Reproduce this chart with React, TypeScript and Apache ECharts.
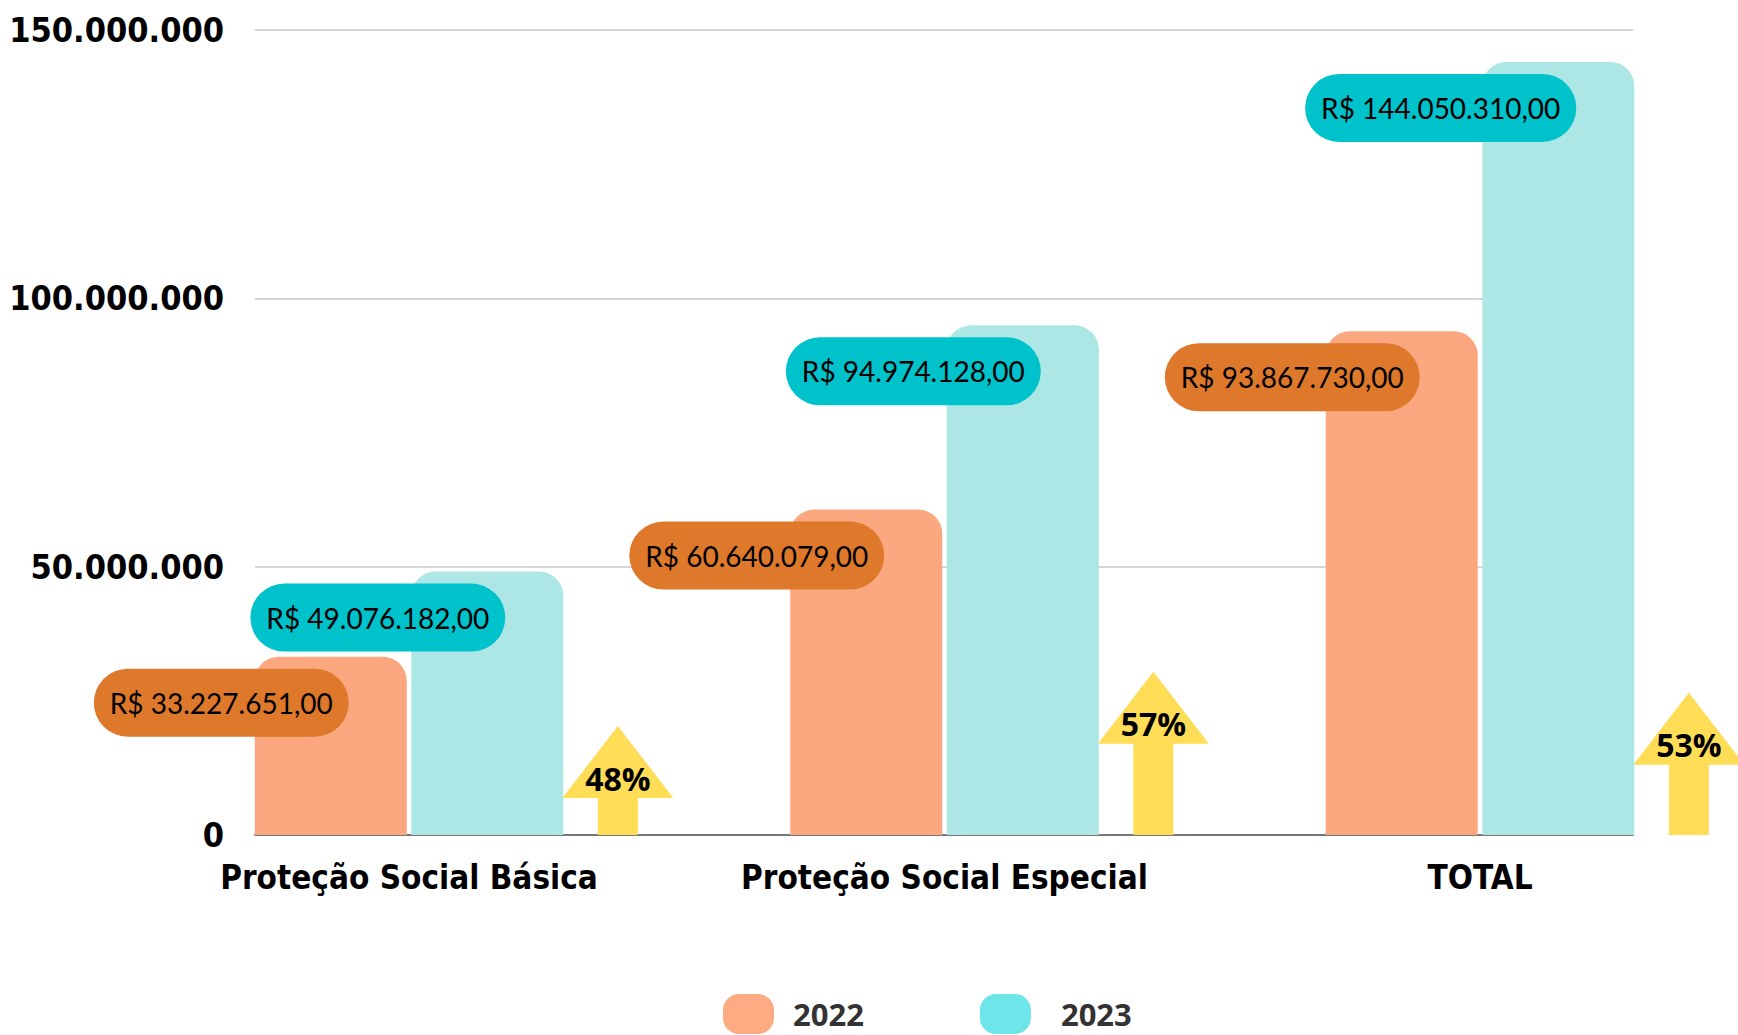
import React, { useEffect, useRef } from 'react';
import * as echarts from 'echarts';

const categories = ['Proteção Social Básica', 'Proteção Social Especial', 'TOTAL'];
const seriesNames = ['2022', '2023'];
const values2022 = [33227651, 60640079, 93867730];
const values2023 = [49076182, 94974128, 144050310];
// decorative growth-arrow heights (in axis units)
const arrowHeights = [20300000, 30400000, 26500000];
const yTicks = [0, 50000000, 100000000, 150000000];

const growthLabels = values2023.map((v, i) => Math.round((v / values2022[i] - 1) * 100) + '%');

function fmtThousands(n: number): string {
  return Math.round(n).toString().replace(/\B(?=(\d{3})+(?!\d))/g, '.');
}

const CONDENSED = "'DejaVu Sans Condensed', 'DejaVu Sans', sans-serif";

export default function App() {
  const ref = useRef<HTMLDivElement>(null);
  useEffect(() => {
    document.body.style.margin = '0';
    const chart = echarts.init(ref.current!, null, { renderer: 'svg' });
    const ARROW_OFFSET = 0.39;
    const legendText = {
      fontSize: 31,
      lineHeight: 32,
      fontWeight: 'bold',
      fontFamily: "'Open Sans', sans-serif",
      color: '#333333',
    };
    const option: any = {
      animation: false,
      backgroundColor: '#ffffff',
      grid: { left: 255, right: 105, top: 30, bottom: 200, outerBoundsMode: 'none', containLabel: false },
      legend: {
        left: 718,
        top: 989,
        itemWidth: 51,
        itemHeight: 40,
        itemGap: 116,
        icon: 'path://M16,0 H35 A16,16 0 0 1 51,16 V24 A16,16 0 0 1 35,40 H16 A16,16 0 0 1 0,24 V16 A16,16 0 0 1 16,0 Z',
        data: [
          { name: seriesNames[0], itemStyle: { color: '#FDAB82' } },
          {
            name: seriesNames[1],
            itemStyle: { color: '#6EE5E9' },
            textStyle: { ...legendText, padding: [0, 0, 0, 25] },
          },
        ],
        textStyle: { ...legendText, padding: [0, 0, 0, 14] },
      },
      xAxis: {
        type: 'value',
        min: -0.2876,
        max: 2.2857,
        splitLine: { show: false },
        axisTick: { show: false },
        axisLine: { show: true, lineStyle: { color: '#777777', width: 2 } },
        axisLabel: {
          customValues: [0, 1, 2],
          hideOverlap: false,
          formatter: (v: number) => (Number.isInteger(v) && categories[v] !== undefined ? categories[v] : ''),
          fontFamily: CONDENSED,
          fontWeight: 'bold',
          fontSize: 33,
          color: '#000000',
          margin: 26,
        },
      },
      yAxis: {
        type: 'value',
        min: yTicks[0],
        max: yTicks[yTicks.length - 1],
        interval: yTicks[1] - yTicks[0],
        axisLine: { show: false },
        axisTick: { show: false },
        splitLine: { show: true, lineStyle: { color: '#C8C8C8', width: 1.5 } },
        axisLabel: {
          formatter: (v: number) => fmtThousands(v),
          fontFamily: CONDENSED,
          fontWeight: 'bold',
          fontSize: 34,
          color: '#000000',
          margin: 31,
        },
      },
      series: [
        {
          name: seriesNames[0],
          type: 'bar',
          data: values2022.map((v, i) => [i, v]),
          barWidth: 152,
          barGap: '3%',
          itemStyle: { color: '#FBA880', borderRadius: [24, 24, 0, 0] },
          label: {
            show: true,
            position: ['100%', 0],
            align: 'right',
            verticalAlign: 'middle',
            offset: [-58, 46],
            formatter: (p: any) => 'R$ ' + fmtThousands(p.value[1]) + ',00',
            backgroundColor: '#DE782B',
            borderRadius: 34,
            padding: [20, 16],
            color: '#000000',
            fontSize: 28,
            lineHeight: 28,
            fontFamily: "Lato, sans-serif",
          },
        },
        {
          name: seriesNames[1],
          type: 'bar',
          data: values2023.map((v, i) => [i, v]),
          barWidth: 152,
          barGap: '3%',
          itemStyle: { color: '#ACE7E6', borderRadius: [24, 24, 0, 0] },
          label: {
            show: true,
            position: ['100%', 0],
            align: 'right',
            verticalAlign: 'middle',
            offset: [-58, 46],
            formatter: (p: any) => 'R$ ' + fmtThousands(p.value[1]) + ',00',
            backgroundColor: '#00C2CB',
            borderRadius: 34,
            padding: [20, 16],
            color: '#000000',
            fontSize: 28,
            lineHeight: 28,
            fontFamily: "Lato, sans-serif",
          },
        },
        {
          name: 'growth',
          type: 'custom',
          clip: false,
          data: arrowHeights.map((h, i) => [i, h]),
          renderItem: (params: any, api: any) => {
            const x = api.value(0) + ARROW_OFFSET;
            const tip = api.coord([x, api.value(1)]);
            const base = api.coord([x, 0]);
            const hw = 55.5;
            const sw = 20;
            const hh = 72;
            const cx = tip[0];
            const ty = tip[1];
            return {
              type: 'group',
              children: [
                {
                  type: 'polygon',
                  shape: {
                    points: [
                      [cx, ty],
                      [cx + hw, ty + hh],
                      [cx + sw, ty + hh],
                      [cx + sw, base[1]],
                      [cx - sw, base[1]],
                      [cx - sw, ty + hh],
                      [cx - hw, ty + hh],
                    ],
                  },
                  style: { fill: '#FFDD57' },
                },
                {
                  type: 'text',
                  x: cx,
                  y: ty + 52,
                  style: {
                    text: growthLabels[params.dataIndex],
                    fill: '#000000',
                    fontSize: 32,
                    fontWeight: 'bold',
                    fontFamily: "'Open Sans', sans-serif",
                    align: 'center',
                    verticalAlign: 'middle',
                  },
                },
              ],
            };
          },
        },
      ],
    };
    chart.setOption(option);
    return () => chart.dispose();
  }, []);
  return <div ref={ref} style={{ position: 'absolute', left: 0, top: 0, width: 1738, height: 1035 }} />;
}
